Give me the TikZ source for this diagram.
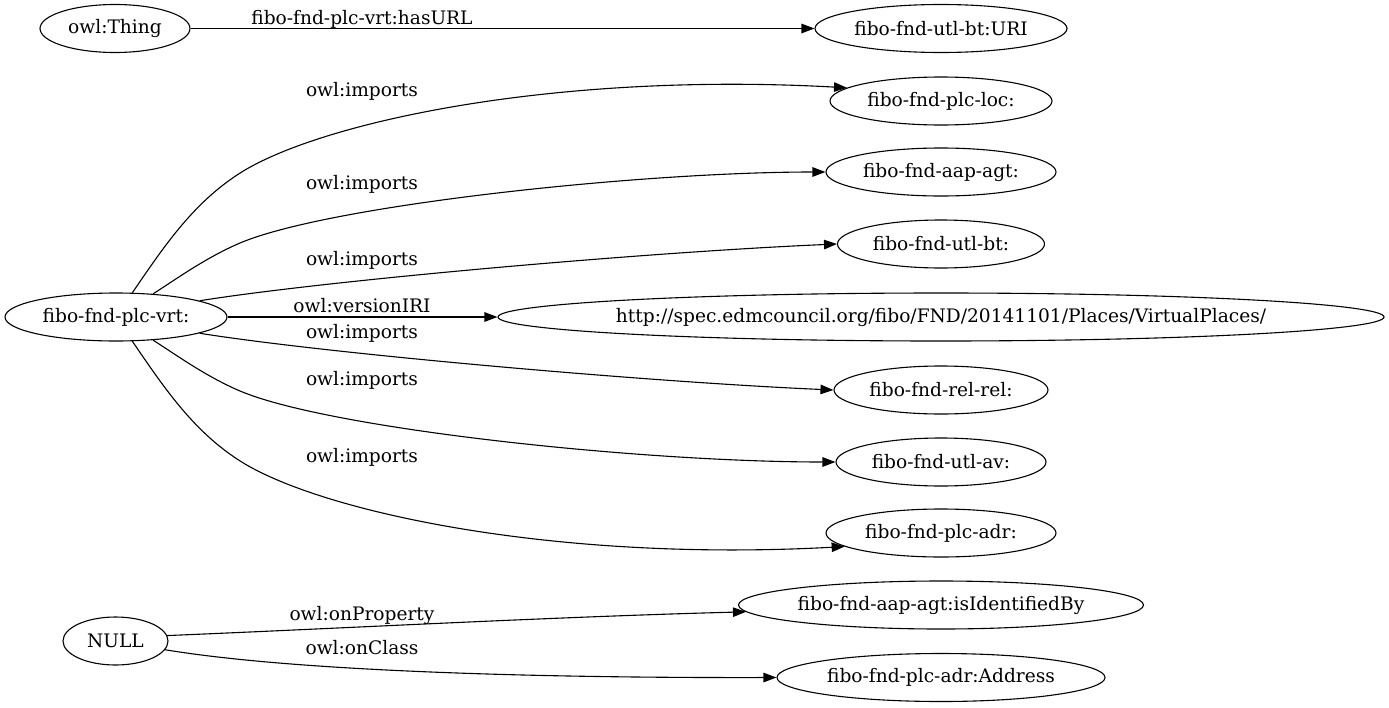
\documentclass[tikz,border=0pt]{standalone}
\usepackage{fontspec}
\setmainfont{DejaVu Serif}
\usetikzlibrary{shapes.geometric,arrows.meta}
\newcommand\zb[1]{\makebox[0pt]{#1}}
\begin{document}
\begin{tikzpicture}[x=1pt,y=-1pt,
  every node/.style={font=\fontsize{18.6}{22}\selectfont},
  ent/.style={draw, ellipse, inner sep=0pt, minimum height=48pt, line width=1.1pt},
  lbl/.style={anchor=base, inner sep=0pt},
  conn/.style={line width=1.1pt, -{Triangle[length=13pt,width=9.5pt]}}]
\useasboundingbox (0,0) rectangle (1389,707);
% nodes
\node[ent, minimum width=150pt] (thing) at (115,28.5) {\zb{owl:Thing}};
\node[ent, minimum width=252pt] (uri) at (941,28.5) {\zb{fibo-fnd-utl-bt:URI}};
\node[ent, minimum width=222pt] (loc) at (941,101) {\zb{fibo-fnd-plc-loc:}};
\node[ent, minimum width=230pt] (aap) at (941,172) {\zb{fibo-fnd-aap-agt:}};
\node[ent, minimum width=207pt] (ubt) at (941,244) {\zb{fibo-fnd-utl-bt:}};
\node[ent, minimum width=886pt] (http) at (941,317) {\zb{http://spec.edmcouncil.org/fibo/FND/20141101/Places/VirtualPlaces/}};
\node[ent, minimum width=222pt] (vrt) at (116,317) {\zb{fibo-fnd-plc-vrt:}};
\node[ent, minimum width=214pt] (rel) at (941,390) {\zb{fibo-fnd-rel-rel:}};
\node[ent, minimum width=210pt] (uav) at (941,462) {\zb{fibo-fnd-utl-av:}};
\node[ent, minimum width=230pt] (adr) at (941,533) {\zb{fibo-fnd-plc-adr:}};
\node[ent, minimum width=105pt] (null) at (115.5,641) {\zb{NULL}};
\node[ent, minimum width=405pt] (iib) at (941,605) {\zb{fibo-fnd-aap-agt:isIdentifiedBy}};
\node[ent, minimum width=328pt] (addr) at (941,677.5) {\zb{fibo-fnd-plc-adr:Address}};
% connectors
\draw[conn] (thing) -- (uri);
\draw[conn] (vrt.56) .. controls (165,245) and (195,200) .. (245,170) .. controls (330,120) and (560,72) .. (loc.172);
\draw[conn] (vrt.32) .. controls (175,280) and (205,258) .. (240,243) .. controls (330,205) and (640,172) .. (aap.180);
\draw[conn] (vrt.11) .. controls (330,280) and (650,252) .. (ubt.180);
\draw[conn] (vrt) -- (http);
\draw[conn] (vrt.-11) .. controls (330,354) and (650,382) .. (rel.180);
\draw[conn] (vrt.-32) .. controls (175,354) and (205,376) .. (240,391) .. controls (330,429) and (640,462) .. (uav.180);
\draw[conn] (vrt.-56) .. controls (165,389) and (195,434) .. (245,464) .. controls (330,514) and (560,562) .. (adr.188);
\draw[conn] (null.6) .. controls (350,628) and (550,617) .. (iib.182);
\draw[conn] (null.-10) .. controls (300,672) and (550,678) .. (addr.180);
% labels
\node[lbl] (l1) at (362,24.5) {fibo-fnd-plc-vrt:hasURL};
\node[lbl] (l2) at (362,96) {owl:imports};
\node[lbl] (l3) at (362,189) {owl:imports};
\node[lbl] (l4) at (362,265) {owl:imports};
\node[lbl] (l5) at (362,312) {owl:versionIRI};
\node[lbl] (l6) at (362,338) {owl:imports};
\node[lbl] (l7) at (362,385) {owl:imports};
\node[lbl] (l8) at (362,462) {owl:imports};
\node[lbl] (l9) at (362,620) {owl:onProperty};
\node[lbl] (l10) at (362,654) {owl:onClass};
\end{tikzpicture}
\end{document}
